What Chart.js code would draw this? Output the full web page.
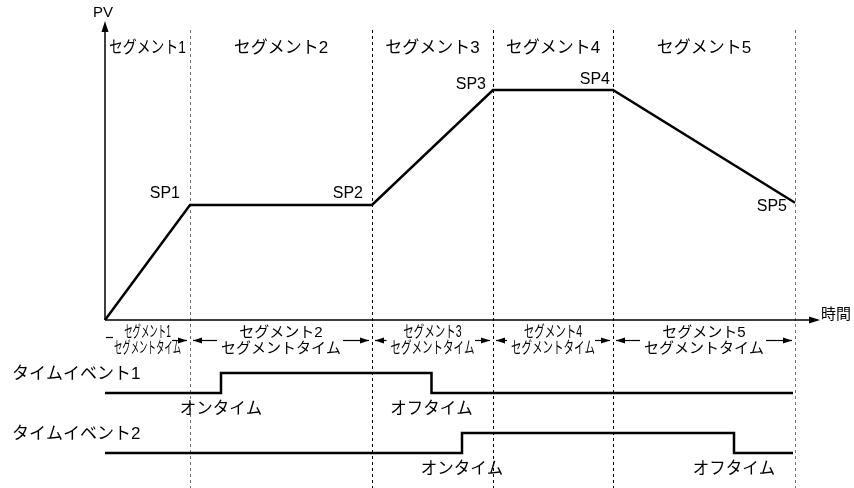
<!DOCTYPE html>
<html lang="ja">
<head>
<meta charset="utf-8">
<title>プログラム運転</title>
<script src="https://cdn.jsdelivr.net/npm/chart.js@4/dist/chart.umd.min.js"></script>
<style>
  html, body { margin: 0; padding: 0; background: #fff; }
  #wrap { width: 854px; height: 488px; }
</style>
</head>
<body>
<div id="wrap"><canvas id="programChart"></canvas></div>
<script>
// segment boundaries on the time axis and PV at each boundary (%)
const segTimes = [0, 17, 53.4, 77.6, 101.6, 138];
const pvValues = [0, 50, 50, 100, 100, 51];
const spLabels = ['SP1', 'SP2', 'SP3', 'SP4', 'SP5'];
const segNames = ['セグメント1', 'セグメント2', 'セグメント3', 'セグメント4', 'セグメント5'];
const segTimeLabel = 'セグメントタイム';

// time events: switching times and on/off states
const event1Times = [0, 23.2, 65.3, 137.6];
const event1States = [0, 1, 0, 0];
const event2Times = [0, 71.4, 125.8, 137.6];
const event2States = [0, 1, 0, 0];
const eventNames = ['タイムイベント1', 'タイムイベント2'];
const onLabel = 'オンタイム';
const offLabel = 'オフタイム';

// layout (pixels)
const AREA_TOP = 22, AREA_BOTTOM = 470;
const PV0_PX = 320, PV100_PX = 90;
const EV_ROW_PX = 393, EV_UNIT_PX = 20;
const rowBase = [0, -3];            // event rows on the event scale
const spOffsets = [[-10, -11], [-9, -11], [-7, -5], [-3, -10], [-8, 4]];

const pxPerPv = (PV0_PX - PV100_PX) / 100;
const FONT = '"Liberation Sans", "Noto Sans CJK JP", sans-serif';

function pts(xs, ys, base) {
    return xs.map((t, i) => ({ x: t, y: ys[i] + (base || 0) }));
}

function arrowHead(ctx, x, y, dir, len, half) {
    ctx.beginPath();
    if (dir === 'right') { ctx.moveTo(x, y); ctx.lineTo(x - len, y - half); ctx.lineTo(x - len, y + half); }
    if (dir === 'left') { ctx.moveTo(x, y); ctx.lineTo(x + len, y - half); ctx.lineTo(x + len, y + half); }
    if (dir === 'up') { ctx.moveTo(x, y); ctx.lineTo(x - half, y + len); ctx.lineTo(x + half, y + len); }
    ctx.closePath();
    ctx.fill();
}

function text(ctx, str, x, y, size, align, maxWidth) {
    ctx.font = size + 'px ' + FONT;
    ctx.textAlign = align || 'center';
    ctx.textBaseline = 'middle';
    if (maxWidth) ctx.fillText(str, x, y, maxWidth);
    else ctx.fillText(str, x, y);
}

const diagramPlugin = {
    id: 'diagram',
    beforeDatasetsDraw(chart) {
        const { ctx, scales: { x, y } } = chart;
        ctx.save();
        // dashed segment borders
        ctx.lineWidth = 1;
        ctx.setLineDash([3, 3]);
        const borders = segTimes.slice(1);
        borders.forEach((t, i) => {
            const px = Math.round(x.getPixelForValue(t)) + 0.5;
            ctx.strokeStyle = (i === 0 || i === borders.length - 1) ? '#707070' : '#000';
            ctx.beginPath();
            ctx.moveTo(px, 30);
            ctx.lineTo(px, 488);
            ctx.stroke();
        });
        ctx.setLineDash([]);

        // axes with arrows
        const x0 = x.getPixelForValue(0);
        const y0 = y.getPixelForValue(0);
        ctx.strokeStyle = '#000';
        ctx.fillStyle = '#000';
        ctx.lineWidth = 1.5;
        ctx.beginPath();
        ctx.moveTo(x0, y0); ctx.lineTo(812, y0);
        ctx.moveTo(x0, y0); ctx.lineTo(x0, 30);
        ctx.stroke();
        arrowHead(ctx, 820, y0, 'right', 11, 3.5);
        arrowHead(ctx, x0, 21, 'up', 11, 3.5);
        ctx.restore();
    },
    afterDatasetsDraw(chart) {
        const { ctx, scales: { x, y, ev } } = chart;
        ctx.save();
        ctx.fillStyle = '#000';
        ctx.strokeStyle = '#000';
        const x0 = x.getPixelForValue(0);
        const y0 = y.getPixelForValue(0);

        text(ctx, 'PV', x0 - 2, 13, 15);
        text(ctx, '時間', 821, y0 - 5, 15, 'left');

        // segment titles and segment time labels
        for (let i = 0; i < segNames.length; i++) {
            const l = x.getPixelForValue(segTimes[i]);
            const r = x.getPixelForValue(segTimes[i + 1]);
            const c = (l + r) / 2;
            const w = r - l;
            text(ctx, segNames[i], c, 48, 17, 'center', w < 100 ? w - 8 : undefined);

            const k = w < 100 ? 0.56 : (w < 150 ? 0.7 : 1);
            const size = k < 1 ? 16 : 15;
            ctx.font = '15px ' + FONT;
            const w1 = ctx.measureText(segNames[i]).width * k;
            const w2 = ctx.measureText(segTimeLabel).width * k;
            text(ctx, segNames[i], c, 333, size, 'center', w1);
            text(ctx, segTimeLabel, c, 349, size, 'center', w2);

            // dimension arrows
            const ay = 340.5;
            ctx.lineWidth = 1.2;
            const lEnd = c - w2 / 2 - 4;
            const rStart = c + w2 / 2 + 2;
            ctx.beginPath();
            if (lEnd - (l + 3) > 10) {
                ctx.moveTo(l + 3, ay); ctx.lineTo(lEnd, ay); ctx.stroke();
                arrowHead(ctx, l + 3, ay, 'left', 9, 3);
            } else {
                ctx.moveTo(l + 1, ay - 3); ctx.lineTo(l + 8, ay - 3); ctx.stroke();
            }
            ctx.beginPath();
            ctx.moveTo(Math.min(rStart, r - 18), ay); ctx.lineTo(r - 3, ay); ctx.stroke();
            arrowHead(ctx, r - 3, ay, 'right', 9, 3);
        }

        // set point labels
        spLabels.forEach((s, i) => {
            const px = x.getPixelForValue(segTimes[i + 1]);
            const py = y.getPixelForValue(pvValues[i + 1]);
            text(ctx, s, px + spOffsets[i][0], py + spOffsets[i][1], 16, 'right');
        });

        // time event labels
        const evSets = [[event1Times, event1States], [event2Times, event2States]];
        evSets.forEach(([ts, st], r) => {
            const hiY = ev.getPixelForValue(rowBase[r] + 1);
            const loY = ev.getPixelForValue(rowBase[r]);
            text(ctx, eventNames[r], 12, hiY + 1, 17, 'left');
            for (let j = 1; j < ts.length; j++) {
                if (st[j] === st[j - 1]) continue;
                const lbl = st[j] ? onLabel : offLabel;
                text(ctx, lbl, x.getPixelForValue(ts[j]), loY + 16, 16.5);
            }
        });
        ctx.restore();
    }
};

const lineStyle = {
    borderColor: '#000',
    borderWidth: 2.5,
    pointRadius: 0,
    fill: false,
    tension: 0,
    clip: false
};

new Chart(document.getElementById('programChart').getContext('2d'), {
    type: 'line',
    data: {
        datasets: [
            Object.assign({ label: 'PV', data: pts(segTimes, pvValues), yAxisID: 'y', borderJoinStyle: 'miter' }, lineStyle),
            Object.assign({ label: eventNames[0], data: pts(event1Times, event1States, rowBase[0]), yAxisID: 'ev', stepped: 'before' }, lineStyle),
            Object.assign({ label: eventNames[1], data: pts(event2Times, event2States, rowBase[1]), yAxisID: 'ev', stepped: 'before' }, lineStyle)
        ]
    },
    options: {
        responsive: true,
        maintainAspectRatio: false,
        animation: false,
        events: [],
        layout: { padding: { left: 105, right: 854 - 795, top: AREA_TOP, bottom: 488 - AREA_BOTTOM } },
        plugins: { legend: { display: false }, tooltip: { enabled: false } },
        scales: {
            x: { type: 'linear', display: false, min: segTimes[0], max: segTimes[segTimes.length - 1] },
            y: {
                type: 'linear', display: false,
                min: -(AREA_BOTTOM - PV0_PX) / pxPerPv,
                max: (PV0_PX - AREA_TOP) / pxPerPv
            },
            ev: {
                type: 'linear', display: false,
                min: -(AREA_BOTTOM - EV_ROW_PX) / EV_UNIT_PX,
                max: (EV_ROW_PX - AREA_TOP) / EV_UNIT_PX
            }
        }
    },
    plugins: [diagramPlugin]
});
</script>
</body>
</html>
